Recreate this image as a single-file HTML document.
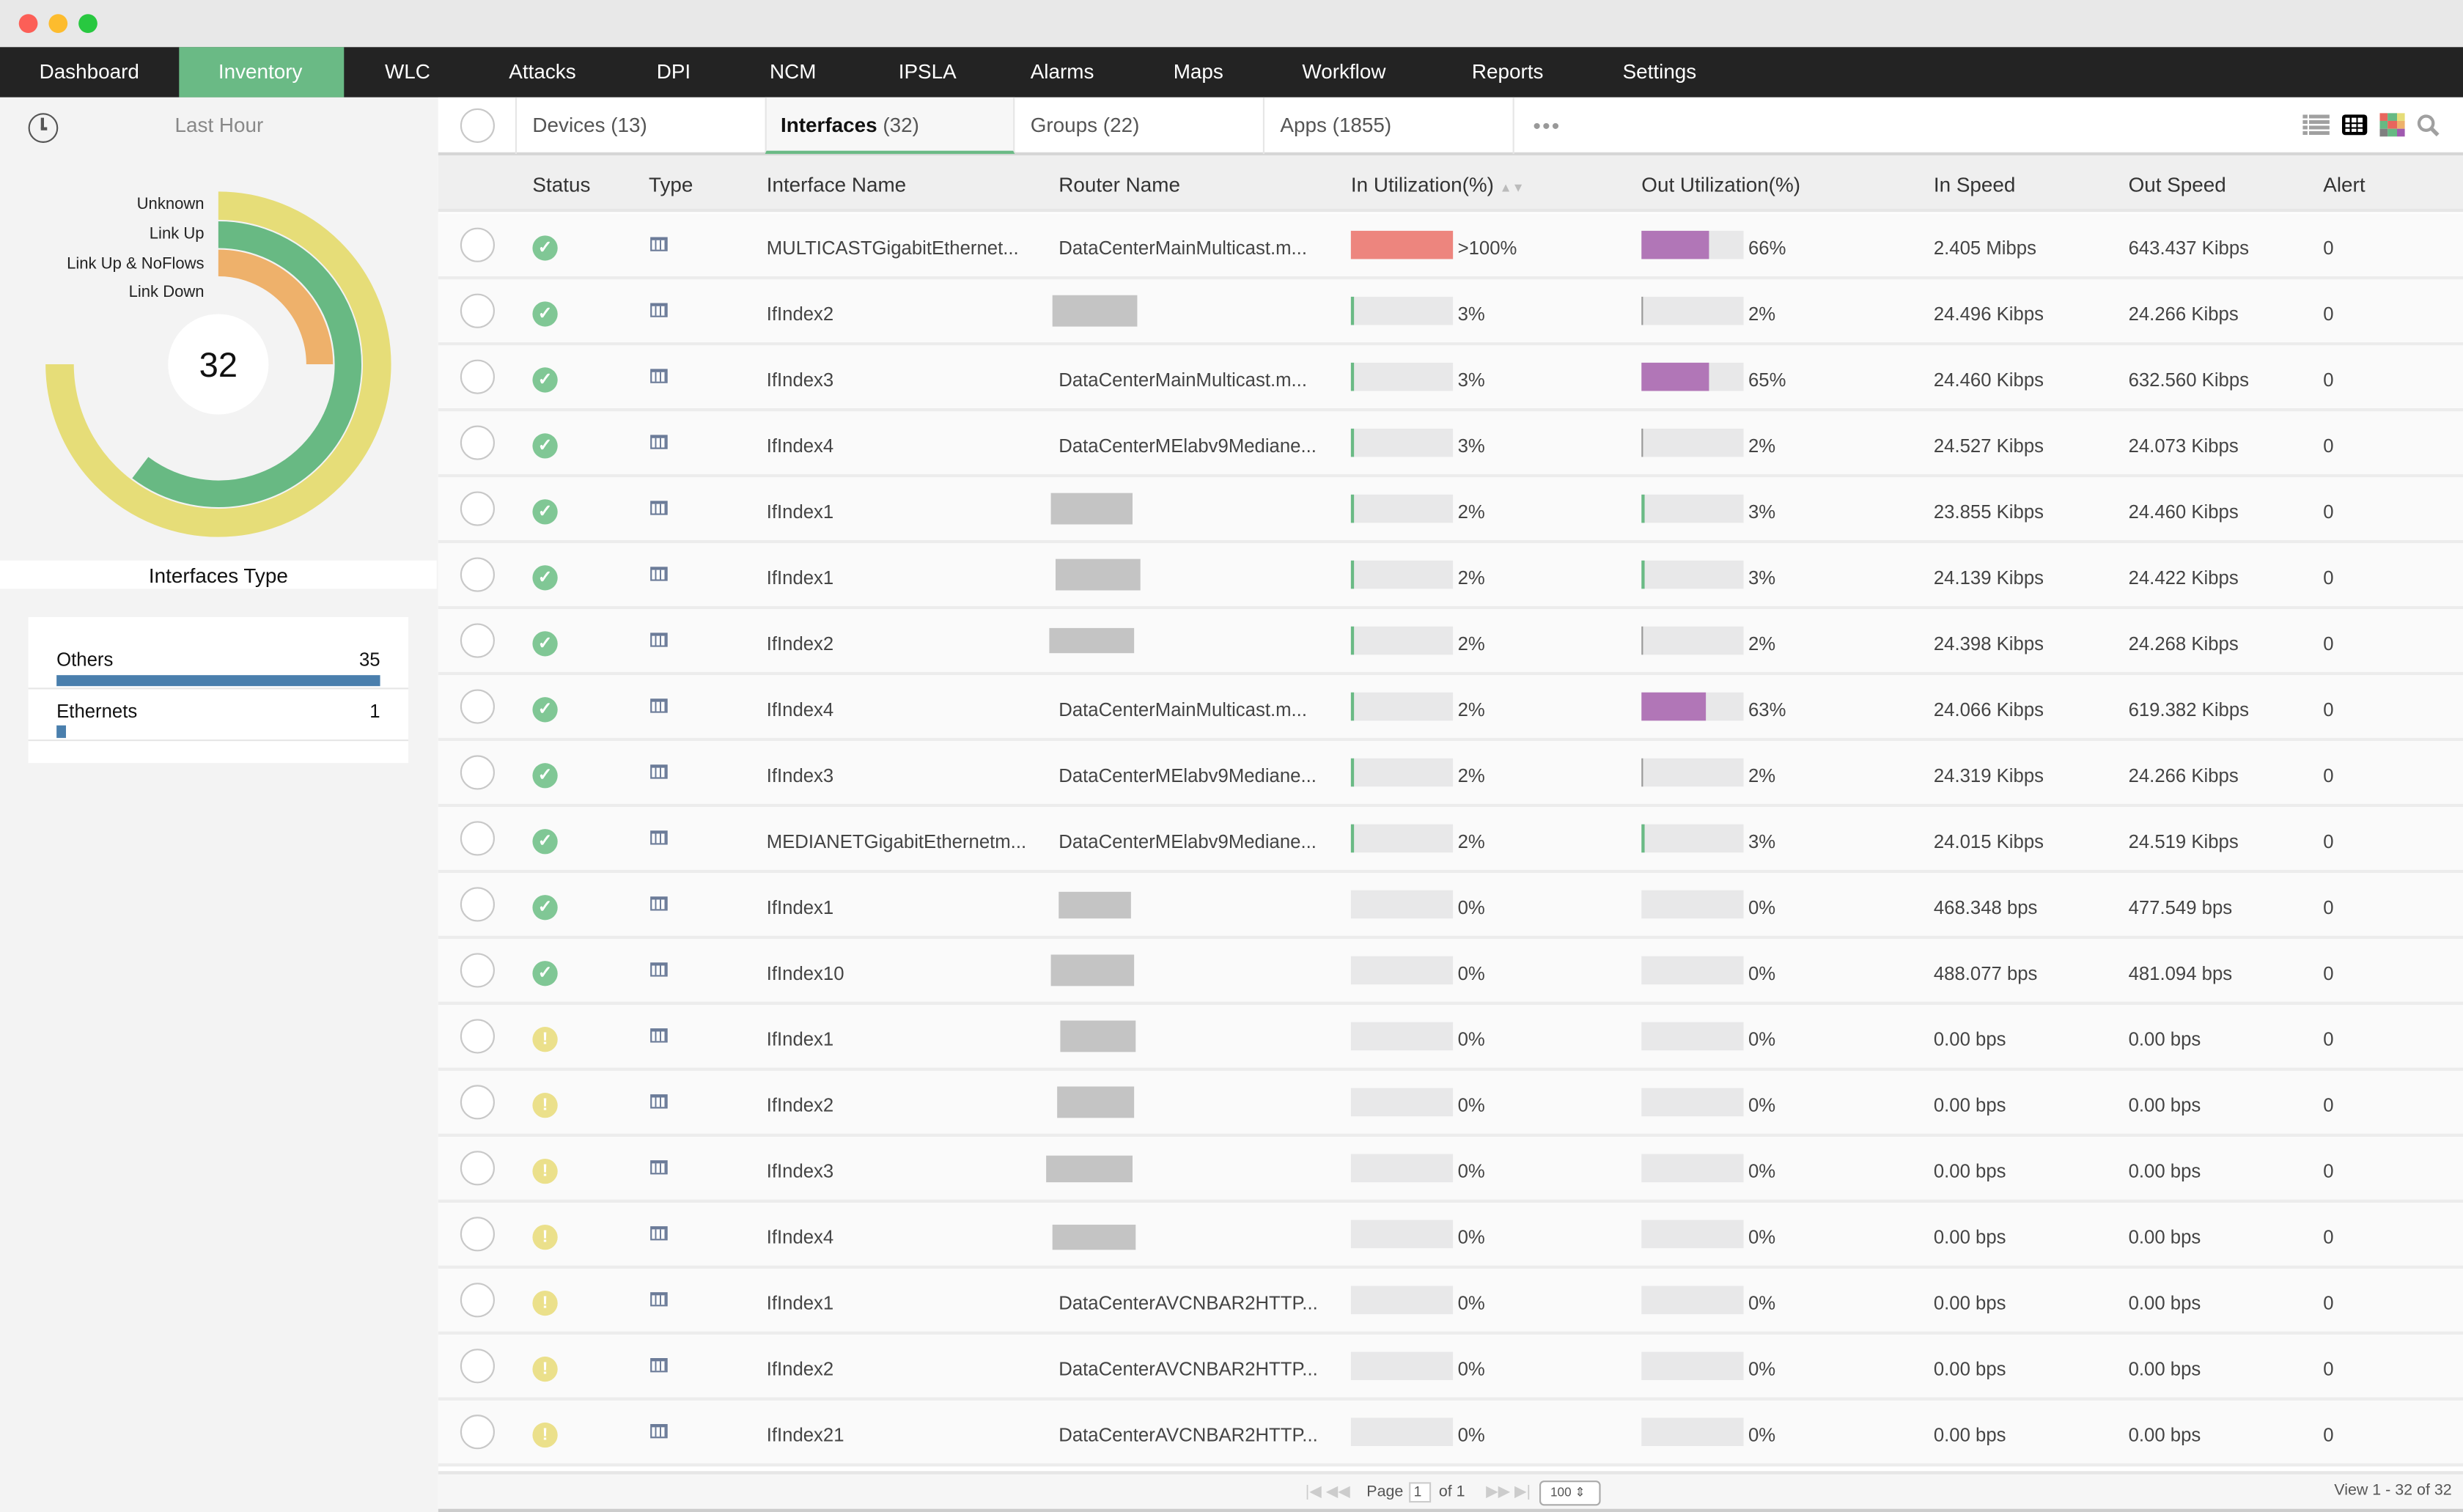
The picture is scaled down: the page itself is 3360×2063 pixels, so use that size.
<!DOCTYPE html>
<html><head><meta charset="utf-8"><style>
*{margin:0;padding:0;box-sizing:border-box}
html,body{width:3360px;height:2063px;overflow:hidden;background:#fff}
#s{position:absolute;left:0;top:0;width:1568px;height:963px;transform:scale(2.142857,2.142264);transform-origin:0 0;font-family:"Liberation Sans",sans-serif;color:#444;font-size:12px}
.a{position:absolute}
.nav span{position:absolute;top:0;line-height:32px;color:#fff;font-size:13px}
.r{position:absolute;left:279px;width:1289px;height:42px;background:#fafafa;border-bottom:2px solid #ececec}
.r .c{position:absolute;left:14px;top:9px;width:22px;height:22px;border:1px solid #c8c8c8;border-radius:50%;background:#fff}
.r .ok,.r .w{position:absolute;left:60px;top:14px;width:16px;height:16px;border-radius:50%;background:#80c795;color:#fff;font-size:11px;line-height:16px;text-align:center;font-weight:bold}
.r .w{background:#ebe08b}
.r .t{position:absolute;left:135px;top:15px;width:11px;height:9px;border:1px solid #6b7b98;border-top-width:2px;background:repeating-linear-gradient(90deg,#fff 0 2px,#6b7b98 2px 3px)}
.r b{font-weight:normal;position:absolute;top:2px;line-height:40px;white-space:nowrap}
.r i{position:absolute;top:11px;height:18px;width:65px;background:#e8e8e9}
.r i u{position:absolute;left:0;top:0;height:18px;display:block}
.r .g{position:absolute;top:10px;height:20px;background:#c4c4c4}
.h span{position:absolute;top:1px;line-height:35px;font-size:13px;color:#333}
</style></head><body><div id="s">
<div class="a" style="left:0;top:0;width:1568px;height:30px;background:#e8e8e8"></div>
<div class="a" style="left:12px;top:9px;width:12px;height:12px;border-radius:50%;background:#fc5f57"></div>
<div class="a" style="left:31px;top:9px;width:12px;height:12px;border-radius:50%;background:#fdbc2e"></div>
<div class="a" style="left:50px;top:9px;width:12px;height:12px;border-radius:50%;background:#28c840"></div>
<div class="a nav" style="left:0;top:30px;width:1568px;height:32px;background:#232323">
<div class="a" style="left:114px;top:0;width:105px;height:32px;background:#6aba85"></div>
<span style="left:25px">Dashboard</span><span style="left:139px">Inventory</span><span style="left:245px">WLC</span><span style="left:324px">Attacks</span><span style="left:418px">DPI</span><span style="left:490px">NCM</span><span style="left:572px">IPSLA</span><span style="left:656px">Alarms</span><span style="left:747px">Maps</span><span style="left:829px">Workflow</span><span style="left:937px">Reports</span><span style="left:1033px">Settings</span>
</div>
<div class="a" style="left:0;top:62px;width:279px;height:901px;background:#f3f3f3"></div>
<div class="a" style="left:18px;top:72px;width:19px;height:19px;border:1.5px solid #555;border-radius:50%"></div>
<div class="a" style="left:26px;top:75px;width:1.5px;height:7px;background:#555"></div>
<div class="a" style="left:26px;top:81px;width:4px;height:1.5px;background:#555"></div>
<div class="a" style="left:0;top:72px;width:279px;text-align:center;font-size:13px;color:#888">Last Hour</div>
<svg class="a" style="left:0;top:62px" width="279" height="300" viewBox="0 62 279 300">
<circle cx="139" cy="232" r="32" fill="#fff"/>
<path d="M139 131 A101 101 0 1 1 38 232" fill="none" stroke="#e6dd78" stroke-width="18"/>
<path d="M139 149.5 A82.5 82.5 0 1 1 89.3 297.8" fill="none" stroke="#68b983" stroke-width="17"/>
<path d="M139 167.5 A64.5 64.5 0 0 1 203.5 232" fill="none" stroke="#eeb16b" stroke-width="17"/>
<text x="139" y="240" text-anchor="middle" font-family="Liberation Sans" font-size="22" fill="#111">32</text>
<g font-family="Liberation Sans" font-size="10.3" fill="#222" text-anchor="end">
<text x="130" y="133">Unknown</text><text x="130" y="152">Link Up</text><text x="130" y="171">Link Up &amp; NoFlows</text><text x="130" y="189">Link Down</text></g>
</svg>
<div class="a" style="left:0;top:357px;width:278px;height:18px;background:#fff;text-align:center;font-size:13px;line-height:19px;color:#111">Interfaces Type</div>
<div class="a" style="left:18px;top:393px;width:242px;height:93px;background:#fff"></div>
<div class="a" style="left:36px;top:413px;font-size:12px;color:#111">Others</div>
<div class="a" style="left:200px;top:413px;width:42px;text-align:right;font-size:12px;color:#111">35</div>
<div class="a" style="left:36px;top:430px;width:206px;height:7px;background:#4a7fad"></div>
<div class="a" style="left:18px;top:438px;width:242px;height:1px;background:#e6e6e6"></div>
<div class="a" style="left:36px;top:446px;font-size:12px;color:#111">Ethernets</div>
<div class="a" style="left:200px;top:446px;width:42px;text-align:right;font-size:12px;color:#111">1</div>
<div class="a" style="left:36px;top:462px;width:6px;height:8px;background:#4a7fad"></div>
<div class="a" style="left:18px;top:471px;width:242px;height:1px;background:#e6e6e6"></div>
<div class="a" style="left:279px;top:62px;width:1289px;height:37px;background:#fff;border-bottom:2px solid #d6d6d6"></div>
<div class="a" style="left:293px;top:69px;width:22px;height:22px;border:1px solid #c8c8c8;border-radius:50%"></div>
<div class="a" style="left:328px;top:62px;width:1px;height:36px;background:#e6e6e6"></div>
<div class="a" style="left:487px;top:62px;width:159px;height:36px;background:#f7f7f7;border-left:1px solid #e6e6e6;border-right:1px solid #e6e6e6;border-bottom:2px solid #6aba85"></div>
<div class="a" style="left:804px;top:62px;width:1px;height:36px;background:#e6e6e6"></div>
<div class="a" style="left:963px;top:62px;width:1px;height:36px;background:#e6e6e6"></div>
<div class="a" style="left:339px;top:72px;font-size:13px;color:#555">Devices (13)</div>
<div class="a" style="left:497px;top:72px;font-size:13px;color:#111;font-weight:bold">Interfaces <span style="font-weight:normal;color:#555">(32)</span></div>
<div class="a" style="left:656px;top:72px;font-size:13px;color:#555">Groups (22)</div>
<div class="a" style="left:815px;top:72px;font-size:13px;color:#555">Apps (1855)</div>
<div class="a" style="left:976px;top:72px;font-size:14px;color:#999;letter-spacing:1px">&#8226;&#8226;&#8226;</div>
<div class="a" style="left:1466px;top:73px;width:17px;height:13px;background:repeating-linear-gradient(180deg,#a0a0a0 0 2.5px,transparent 2.5px 3.5px)"></div>
<div class="a" style="left:1469px;top:73px;width:1px;height:13px;background:#fff"></div>
<div class="a" style="left:1491px;top:73px;width:16px;height:13px;background:#000;border-radius:2px"></div>
<div class="a" style="left:1493px;top:75px;width:12px;height:9px;background:repeating-linear-gradient(90deg,#fff 0 3px,#000 3px 4px)"></div>
<div class="a" style="left:1493px;top:78px;width:12px;height:1px;background:#000"></div><div class="a" style="left:1493px;top:81px;width:12px;height:1px;background:#000"></div>
<svg class="a" style="left:1515px;top:72px" width="16" height="15"><rect x="0" y="0" width="5" height="5" fill="#e8665d"/><rect x="5" y="0" width="6" height="5" fill="#66b983"/><rect x="11" y="0" width="5" height="5" fill="#e6dd78"/><rect x="0" y="5" width="5" height="5" fill="#66b983"/><rect x="5" y="5" width="6" height="5" fill="#e8665d"/><rect x="11" y="5" width="5" height="5" fill="#eeb16b"/><rect x="0" y="10" width="5" height="5" fill="#808080"/><rect x="5" y="10" width="6" height="5" fill="#66b983"/><rect x="11" y="10" width="5" height="5" fill="#a05ab0"/></svg>
<svg class="a" style="left:1538px;top:72px" width="16" height="16"><circle cx="6.5" cy="6.5" r="4.5" fill="none" stroke="#a0a0a0" stroke-width="2"/><line x1="10" y1="10" x2="14" y2="14" stroke="#a0a0a0" stroke-width="2.5"/></svg>
<div class="a h" style="left:279px;top:99px;width:1289px;height:36px;background:#efefef;border-bottom:2px solid #e6e6e6">
<span style="left:60px">Status</span><span style="left:134px">Type</span><span style="left:209px">Interface Name</span><span style="left:395px">Router Name</span><span style="left:581px">In Utilization(%) <small style="color:#bbb;font-size:8px">&#9650;&#9660;</small></span><span style="left:766px">Out Utilization(%)</span><span style="left:952px">In Speed</span><span style="left:1076px">Out Speed</span><span style="left:1200px">Alert</span></div>

<div class="r" style="top:136px"><div class="c"></div><div class="ok">&#10003;</div><div class="t"></div><b style="left:209px">MULTICASTGigabitEthernet...</b><b style="left:395px">DataCenterMainMulticast.m...</b><i style="left:581px"><u style="width:65px;background:#ed857e"></u></i><b style="left:649px">&gt;100%</b><i style="left:766px"><u style="width:43px;background:#b176b7"></u></i><b style="left:834px">66%</b><b style="left:952px">2.405 Mibps</b><b style="left:1076px">643.437 Kibps</b><b style="left:1200px">0</b></div>
<div class="r" style="top:178px"><div class="c"></div><div class="ok">&#10003;</div><div class="t"></div><b style="left:209px">IfIndex2</b><div class="g" style="left:391px;width:54px"></div><i style="left:581px"><u style="width:2px;background:#6aba85"></u></i><b style="left:649px">3%</b><i style="left:766px"><u style="width:1px;background:#999"></u></i><b style="left:834px">2%</b><b style="left:952px">24.496 Kibps</b><b style="left:1076px">24.266 Kibps</b><b style="left:1200px">0</b></div>
<div class="r" style="top:220px"><div class="c"></div><div class="ok">&#10003;</div><div class="t"></div><b style="left:209px">IfIndex3</b><b style="left:395px">DataCenterMainMulticast.m...</b><i style="left:581px"><u style="width:2px;background:#6aba85"></u></i><b style="left:649px">3%</b><i style="left:766px"><u style="width:43px;background:#b176b7"></u></i><b style="left:834px">65%</b><b style="left:952px">24.460 Kibps</b><b style="left:1076px">632.560 Kibps</b><b style="left:1200px">0</b></div>
<div class="r" style="top:262px"><div class="c"></div><div class="ok">&#10003;</div><div class="t"></div><b style="left:209px">IfIndex4</b><b style="left:395px">DataCenterMElabv9Mediane...</b><i style="left:581px"><u style="width:2px;background:#6aba85"></u></i><b style="left:649px">3%</b><i style="left:766px"><u style="width:1px;background:#999"></u></i><b style="left:834px">2%</b><b style="left:952px">24.527 Kibps</b><b style="left:1076px">24.073 Kibps</b><b style="left:1200px">0</b></div>
<div class="r" style="top:304px"><div class="c"></div><div class="ok">&#10003;</div><div class="t"></div><b style="left:209px">IfIndex1</b><div class="g" style="left:390px;width:52px"></div><i style="left:581px"><u style="width:2px;background:#6aba85"></u></i><b style="left:649px">2%</b><i style="left:766px"><u style="width:2px;background:#6aba85"></u></i><b style="left:834px">3%</b><b style="left:952px">23.855 Kibps</b><b style="left:1076px">24.460 Kibps</b><b style="left:1200px">0</b></div>
<div class="r" style="top:346px"><div class="c"></div><div class="ok">&#10003;</div><div class="t"></div><b style="left:209px">IfIndex1</b><div class="g" style="left:393px;width:54px"></div><i style="left:581px"><u style="width:2px;background:#6aba85"></u></i><b style="left:649px">2%</b><i style="left:766px"><u style="width:2px;background:#6aba85"></u></i><b style="left:834px">3%</b><b style="left:952px">24.139 Kibps</b><b style="left:1076px">24.422 Kibps</b><b style="left:1200px">0</b></div>
<div class="r" style="top:388px"><div class="c"></div><div class="ok">&#10003;</div><div class="t"></div><b style="left:209px">IfIndex2</b><div class="g" style="left:389px;width:54px;height:16px;top:12px"></div><i style="left:581px"><u style="width:2px;background:#6aba85"></u></i><b style="left:649px">2%</b><i style="left:766px"><u style="width:1px;background:#999"></u></i><b style="left:834px">2%</b><b style="left:952px">24.398 Kibps</b><b style="left:1076px">24.268 Kibps</b><b style="left:1200px">0</b></div>
<div class="r" style="top:430px"><div class="c"></div><div class="ok">&#10003;</div><div class="t"></div><b style="left:209px">IfIndex4</b><b style="left:395px">DataCenterMainMulticast.m...</b><i style="left:581px"><u style="width:2px;background:#6aba85"></u></i><b style="left:649px">2%</b><i style="left:766px"><u style="width:41px;background:#b176b7"></u></i><b style="left:834px">63%</b><b style="left:952px">24.066 Kibps</b><b style="left:1076px">619.382 Kibps</b><b style="left:1200px">0</b></div>
<div class="r" style="top:472px"><div class="c"></div><div class="ok">&#10003;</div><div class="t"></div><b style="left:209px">IfIndex3</b><b style="left:395px">DataCenterMElabv9Mediane...</b><i style="left:581px"><u style="width:2px;background:#6aba85"></u></i><b style="left:649px">2%</b><i style="left:766px"><u style="width:1px;background:#999"></u></i><b style="left:834px">2%</b><b style="left:952px">24.319 Kibps</b><b style="left:1076px">24.266 Kibps</b><b style="left:1200px">0</b></div>
<div class="r" style="top:514px"><div class="c"></div><div class="ok">&#10003;</div><div class="t"></div><b style="left:209px">MEDIANETGigabitEthernetm...</b><b style="left:395px">DataCenterMElabv9Mediane...</b><i style="left:581px"><u style="width:2px;background:#6aba85"></u></i><b style="left:649px">2%</b><i style="left:766px"><u style="width:2px;background:#6aba85"></u></i><b style="left:834px">3%</b><b style="left:952px">24.015 Kibps</b><b style="left:1076px">24.519 Kibps</b><b style="left:1200px">0</b></div>
<div class="r" style="top:556px"><div class="c"></div><div class="ok">&#10003;</div><div class="t"></div><b style="left:209px">IfIndex1</b><div class="g" style="left:395px;width:46px;height:17px;top:12px"></div><i style="left:581px"></i><b style="left:649px">0%</b><i style="left:766px"></i><b style="left:834px">0%</b><b style="left:952px">468.348 bps</b><b style="left:1076px">477.549 bps</b><b style="left:1200px">0</b></div>
<div class="r" style="top:598px"><div class="c"></div><div class="ok">&#10003;</div><div class="t"></div><b style="left:209px">IfIndex10</b><div class="g" style="left:390px;width:53px"></div><i style="left:581px"></i><b style="left:649px">0%</b><i style="left:766px"></i><b style="left:834px">0%</b><b style="left:952px">488.077 bps</b><b style="left:1076px">481.094 bps</b><b style="left:1200px">0</b></div>
<div class="r" style="top:640px"><div class="c"></div><div class="w">!</div><div class="t"></div><b style="left:209px">IfIndex1</b><div class="g" style="left:396px;width:48px"></div><i style="left:581px"></i><b style="left:649px">0%</b><i style="left:766px"></i><b style="left:834px">0%</b><b style="left:952px">0.00 bps</b><b style="left:1076px">0.00 bps</b><b style="left:1200px">0</b></div>
<div class="r" style="top:682px"><div class="c"></div><div class="w">!</div><div class="t"></div><b style="left:209px">IfIndex2</b><div class="g" style="left:394px;width:49px"></div><i style="left:581px"></i><b style="left:649px">0%</b><i style="left:766px"></i><b style="left:834px">0%</b><b style="left:952px">0.00 bps</b><b style="left:1076px">0.00 bps</b><b style="left:1200px">0</b></div>
<div class="r" style="top:724px"><div class="c"></div><div class="w">!</div><div class="t"></div><b style="left:209px">IfIndex3</b><div class="g" style="left:387px;width:55px;height:17px;top:12px"></div><i style="left:581px"></i><b style="left:649px">0%</b><i style="left:766px"></i><b style="left:834px">0%</b><b style="left:952px">0.00 bps</b><b style="left:1076px">0.00 bps</b><b style="left:1200px">0</b></div>
<div class="r" style="top:766px"><div class="c"></div><div class="w">!</div><div class="t"></div><b style="left:209px">IfIndex4</b><div class="g" style="left:391px;width:53px;height:16px;top:14px"></div><i style="left:581px"></i><b style="left:649px">0%</b><i style="left:766px"></i><b style="left:834px">0%</b><b style="left:952px">0.00 bps</b><b style="left:1076px">0.00 bps</b><b style="left:1200px">0</b></div>
<div class="r" style="top:808px"><div class="c"></div><div class="w">!</div><div class="t"></div><b style="left:209px">IfIndex1</b><b style="left:395px">DataCenterAVCNBAR2HTTP...</b><i style="left:581px"></i><b style="left:649px">0%</b><i style="left:766px"></i><b style="left:834px">0%</b><b style="left:952px">0.00 bps</b><b style="left:1076px">0.00 bps</b><b style="left:1200px">0</b></div>
<div class="r" style="top:850px"><div class="c"></div><div class="w">!</div><div class="t"></div><b style="left:209px">IfIndex2</b><b style="left:395px">DataCenterAVCNBAR2HTTP...</b><i style="left:581px"></i><b style="left:649px">0%</b><i style="left:766px"></i><b style="left:834px">0%</b><b style="left:952px">0.00 bps</b><b style="left:1076px">0.00 bps</b><b style="left:1200px">0</b></div>
<div class="r" style="top:892px"><div class="c"></div><div class="w">!</div><div class="t"></div><b style="left:209px">IfIndex21</b><b style="left:395px">DataCenterAVCNBAR2HTTP...</b><i style="left:581px"></i><b style="left:649px">0%</b><i style="left:766px"></i><b style="left:834px">0%</b><b style="left:952px">0.00 bps</b><b style="left:1076px">0.00 bps</b><b style="left:1200px">0</b></div>
<div class="a" style="left:279px;top:937px;width:1289px;height:26px;background:#f6f6f6;border-top:2px solid #e6e6e6;border-bottom:2px solid #ccc;font-size:10px;color:#555">
<span class="a" style="left:552px;top:6px;color:#ccc">|&#9664; &#9664;&#9664;</span>
<span class="a" style="left:591px;top:6px">Page</span>
<span class="a" style="left:618px;top:5px;width:14px;height:13px;border:1px solid #ccc;background:#fff;font-size:9px;line-height:11px;padding-left:2px">1</span>
<span class="a" style="left:637px;top:6px">of 1</span>
<span class="a" style="left:667px;top:6px;color:#ccc">&#9654;&#9654; &#9654;|</span>
<span class="a" style="left:701px;top:4px;width:39px;height:16px;border:1px solid #aaa;border-radius:3px;background:#fff;font-size:8px;line-height:14px;padding-left:6px">100 &#8661;</span>
<span class="a" style="left:1207px;top:5px">View 1 - 32 of 32</span>
</div>
</div></body></html>
